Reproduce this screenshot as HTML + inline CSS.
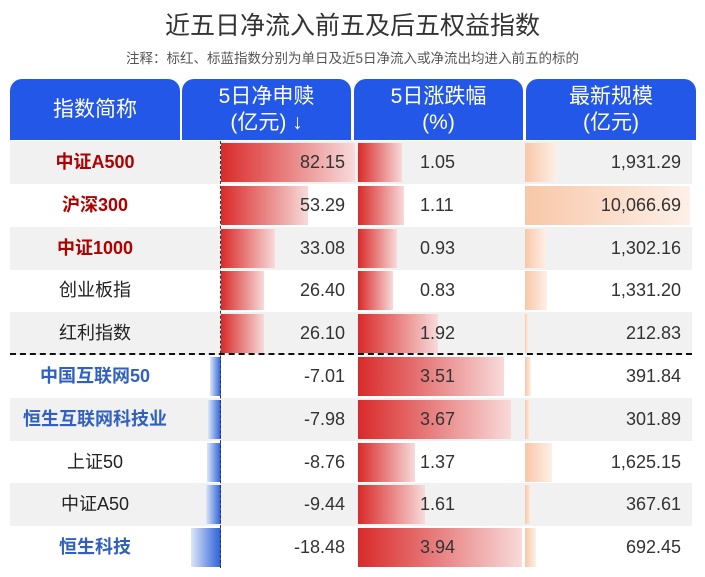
<!DOCTYPE html>
<html><head><meta charset="utf-8"><style>
body{margin:0;width:705px;height:577px;background:#fff;font-family:"Liberation Sans","Noto Sans CJK SC",sans-serif;position:relative;overflow:hidden}
.a{position:absolute}
.t{left:0;width:705px;text-align:center}
.h{background:#2357e8;color:#fff;border-radius:12px 12px 0 0;text-align:center;font-size:21px;line-height:26px;display:flex;align-items:center;justify-content:center;top:79px;height:61px}
.row{left:10px;width:682px;height:43px}
.g{background:#f1f1f1}
.nm{left:10px;width:170px;text-align:center;font-size:18px;line-height:43px;color:#222}
.red{color:#b00000;font-weight:bold}
.blu{color:#3060c0;font-weight:bold}
.v{font-size:18px;line-height:43px;color:#333}
.b{height:39px}
.rb{background:linear-gradient(to right,#d92a2a,#f8dada)}
.bb{background:linear-gradient(to left,#2a60d8,#dce6f8)}
.ob{background:linear-gradient(to right,#f8c7a8,#fdf0e8)}
</style></head><body>
<div class="a t" style="top:6px;font-size:25px;color:#333">近五日净流入前五及后五权益指数</div>
<div class="a t" style="top:47px;font-size:13.5px;color:#555">注释：标红、标蓝指数分别为单日及近5日净流入或净流出均进入前五的标的</div>
<div class="a h" style="left:10px;width:170px">指数简称</div>
<div class="a h" style="left:182px;width:169px">5日净申赎<br>(亿元) ↓</div>
<div class="a h" style="left:354px;width:169px">5日涨跌幅<br>(%)</div>
<div class="a h" style="left:526px;width:170px">最新规模<br>(亿元)</div>
<div id="rows"></div>
<div class="a" style="left:220px;top:141px;height:427px;border-left:1px dashed #333"></div>
<div class="a" style="left:10px;top:353px;width:682px;border-top:2px dashed #111"></div>
<script>
const d=[["中证A500","red",82.15,1.05,"1,931.29",1931],["沪深300","red",53.29,1.11,"10,066.69",10066],["中证1000","red",33.08,0.93,"1,302.16",1302],["创业板指","",26.40,0.83,"1,331.20",1331],["红利指数","",26.10,1.92,"212.83",212],["中国互联网50","blu",-7.01,3.51,"391.84",391],["恒生互联网科技业","blu",-7.98,3.67,"301.89",301],["上证50","",-8.76,1.37,"1,625.15",1625],["中证A50","",-9.44,1.61,"367.61",367],["恒生科技","blu",-18.48,3.94,"692.45",692]];
let h="";
d.forEach((r,i)=>{const y=141+i*42.8;
if(i%2==0)h+=`<div class="a row g" style="top:${y}px"></div>`;
h+=`<div class="a nm ${r[1]}" style="top:${y}px">${r[0]}</div>`;
const by=y+2;
if(r[2]>0)h+=`<div class="a b rb" style="left:221px;top:${by}px;width:${r[2]/82.15*134}px"></div>`;
else h+=`<div class="a b bb" style="left:${221+r[2]/18.48*30}px;top:${by}px;width:${-r[2]/18.48*30}px"></div>`;
h+=`<div class="a b rb" style="left:358px;top:${by}px;width:${r[3]/3.94*164}px"></div>`;
h+=`<div class="a b ob" style="left:525px;top:${by}px;width:${Math.max(3,r[5]/10066*165)}px"></div>`;
h+=`<div class="a v" style="left:230px;width:115px;text-align:right;top:${y}px">${r[2].toFixed(2)}</div>`;
h+=`<div class="a v" style="left:420px;top:${y}px">${r[3].toFixed(2)}</div>`;
h+=`<div class="a v" style="left:540px;width:141px;text-align:right;top:${y}px">${r[4]}</div>`;
});
document.getElementById("rows").innerHTML=h;
</script>
</body></html>
